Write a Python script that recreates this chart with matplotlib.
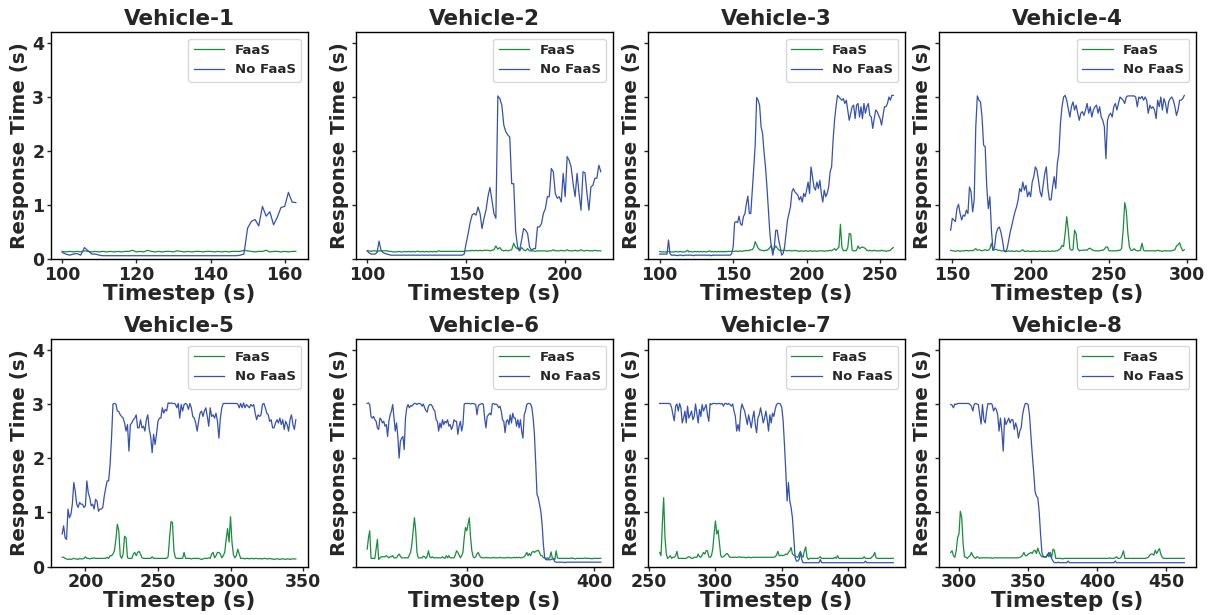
import numpy as np
import matplotlib
matplotlib.use("Agg")
import matplotlib.pyplot as plt

matplotlib.rcParams.update({
    'font.family': 'DejaVu Sans',
    'font.weight': 'bold',
    'axes.labelweight': 'bold',
    'axes.titleweight': 'bold',
    'text.color': '#262626',
    'axes.labelcolor': '#262626',
    'xtick.color': '#262626',
    'ytick.color': '#262626',
    'axes.edgecolor': 'black',
    'axes.linewidth': 1.0,
})

FAAS_COLOR = '#1a8c3e'
NOFAAS_COLOR = '#3652ad'

# ---------------------------------------------------------------
# Data: response time per timestep (first timestep given by *_start)
# ---------------------------------------------------------------
v1_start = 100
v1_xticks = [100, 120, 140, 160]
v1_faas = [
    .15, .14, .15, .14, .15, .14, .16, .15, .14, .15,
    .14, .15, .14, .15, .14, .15, .14, .15, .15, .17,
    .14, .15, .14, .17, .15, .14, .15, .14, .15, .15,
    .14, .16, .15, .14, .15, .14, .15, .15, .14, .15,
    .15, .14, .15, .14, .15, .14, .15, .15, .15, .17,
    .16, .15, .14, .15, .15, .17, .14, .15, .15, .14,
    .15, .14, .15, .15]
v1_nofaas = [
    .13, .10, .08, .10, .11, .08, .22, .16, .10, .10,
    .08, .07, .07, .07, .07, .07, .07, .07, .07, .07,
    .07, .07, .07, .07, .07, .07, .07, .07, .07, .07,
    .07, .07, .07, .07, .07, .07, .07, .07, .07, .07,
    .07, .07, .07, .07, .07, .07, .07, .07, .08, .10,
    .58, .70, .74, .62, .98, .80, .88, .64, .78, .96,
    .98, 1.24, 1.06, 1.05]

v2_start = 100
v2_xticks = [100, 150, 200]
v2_faas = [
    .16, .16, .15, .16, .16, .15, .16, .16, .16, .16,
    .16, .15, .15, .14, .14, .14, .15, .14, .14, .15,
    .14, .15, .14, .15, .14, .15, .15, .14, .15, .14,
    .15, .14, .15, .14, .15, .14, .16, .15, .15, .15,
    .15, .15, .15, .15, .15, .15, .15, .15, .15, .15,
    .16, .16, .16, .17, .16, .17, .16, .17, .16, .17,
    .17, .17, .16, .17, .18, .25, .19, .22, .17, .16,
    .17, .16, .17, .18, .30, .22, .20, .16, .22, .18,
    .16, .20, .16, .16, .16, .15, .16, .16, .16, .16,
    .16, .15, .16, .16, .18, .16, .16, .16, .17, .16,
    .16, .18, .16, .16, .16, .17, .16, .16, .18, .16,
    .16, .17, .16, .16, .16, .17, .16, .16, .16]
v2_nofaas = [
    .16, .12, .10, .10, .10, .13, .34, .17, .13, .11,
    .10, .09, .08, .08, .08, .08, .08, .08, .08, .08,
    .08, .08, .08, .08, .08, .08, .08, .08, .08, .08,
    .08, .08, .08, .08, .08, .08, .08, .08, .08, .08,
    .08, .08, .08, .08, .08, .08, .08, .08, .08, .10,
    .30, .48, .68, .82, .85, .82, .97, .85, .57, .76,
    .91, 1.16, 1.33, 1.10, .85, .76, 3.02, 2.97, 2.85, 2.48,
    2.36, 2.30, 2.26, 1.40, 1.40, .51, .23, .17, .36, .57,
    .54, .48, .23, .17, .20, .20, .60, .60, .66, .85,
    .94, 1.16, 1.16, 1.68, 1.62, 1.22, 1.13, 1.16, 1.06, 1.59,
    1.16, 1.90, 1.83, 1.71, 1.40, 1.16, 1.59, 1.22, .91, 1.62,
    1.60, 1.22, .91, 1.34, 1.37, 1.50, 1.50, 1.74, 1.62]

v3_start = 100
v3_xticks = [100, 150, 200, 250]
v3_faas = [
    .15, .14, .14, .14, .14, .14, .15, .14, .14, .14,
    .14, .15, .14, .14, .15, .14, .14, .14, .15, .17,
    .14, .15, .14, .14, .15, .14, .15, .14, .15, .14,
    .15, .14, .14, .15, .16, .14, .15, .14, .15, .14,
    .15, .14, .15, .14, .15, .14, .15, .15, .15, .15,
    .15, .15, .16, .15, .15, .16, .15, .16, .16, .17,
    .16, .17, .18, .18, .22, .33, .27, .21, .18, .17,
    .17, .16, .17, .17, .19, .22, .26, .16, .20, .25,
    .21, .18, .16, .17, .16, .18, .16, .16, .17, .16,
    .16, .16, .17, .16, .16, .15, .16, .16, .15, .16,
    .16, .15, .16, .16, .15, .16, .16, .15, .16, .16,
    .16, .16, .15, .16, .16, .16, .17, .16, .18, .20,
    .17, .20, .23, .65, .23, .16, .17, .16, .22, .48,
    .47, .17, .16, .16, .17, .25, .20, .22, .23, .22,
    .20, .17, .16, .17, .16, .16, .17, .16, .16, .16,
    .16, .17, .16, .16, .15, .16, .16, .17, .20, .22]
v3_nofaas = [
    .10, .10, .10, .10, .10, .10, .36, .11, .08, .08,
    .08, .08, .07, .08, .08, .08, .07, .08, .08, .08,
    .08, .08, .08, .07, .08, .08, .08, .08, .08, .08,
    .08, .08, .08, .08, .08, .07, .08, .08, .08, .08,
    .08, .08, .08, .08, .08, .08, .08, .08, .08, .11,
    .23, .68, .70, .68, .80, .66, .63, .79, .85, 1.03,
    1.17, .85, .85, 1.25, 1.68, 2.11, 2.99, 2.94, 2.85, 2.45,
    2.33, 1.99, 1.71, 1.34, .91, .48, .23, .08, .23, .54,
    .54, .36, .23, .08, .11, .23, .48, .73, .85, .97,
    1.25, 1.31, 1.25, 1.22, 1.19, 1.10, 1.16, 1.06, 1.22, 1.16,
    1.28, 1.43, 1.22, 1.71, 1.53, 1.34, 1.28, 1.43, 1.31, 1.46,
    1.22, 1.06, 1.28, 1.16, 1.22, 1.34, 1.62, 1.71, 2.20, 2.57,
    2.82, 3.03, 3.00, 2.97, 2.94, 2.97, 2.88, 2.94, 2.76, 2.57,
    2.70, 2.82, 2.85, 2.60, 2.85, 2.88, 2.63, 2.82, 2.60, 2.88,
    2.70, 2.82, 2.88, 2.66, 2.63, 2.42, 2.60, 2.76, 2.73, 2.66,
    2.60, 2.48, 2.66, 2.82, 2.82, 2.88, 3.00, 2.94, 3.03, 3.03]

v4_start = 149
v4_xticks = [150, 200, 250, 300]
v4_faas = [
    .17,
    .16, .16, .15, .16, .16, .15, .16, .16, .16, .17,
    .16, .16, .17, .16, .18, .20, .17, .18, .17, .16,
    .17, .18, .17, .17, .20, .30, .17, .18, .19, .17,
    .17, .16, .16, .16, .15, .15, .16, .15, .16, .15,
    .15, .16, .15, .15, .16, .18, .15, .15, .16, .15,
    .15, .15, .16, .15, .15, .15, .16, .15, .15, .15,
    .15, .16, .15, .15, .16, .15, .16, .16, .18, .20,
    .26, .24, .48, .79, .54, .20, .17, .18, .54, .48,
    .20, .16, .17, .17, .17, .18, .17, .20, .21, .18,
    .17, .16, .16, .16, .16, .17, .17, .19, .23, .23,
    .16, .16, .16, .16, .16, .16, .17, .17, .20, .54,
    1.05, .90, .48, .23, .17, .17, .20, .17, .16, .16,
    .17, .30, .17, .16, .16, .16, .16, .16, .16, .16,
    .16, .17, .16, .16, .15, .16, .16, .16, .16, .16,
    .16, .17, .18, .25, .27, .31, .22, .16, .18]
v4_nofaas = [
    .54,
    .76, .73, .70, .94, 1.02, .85, .73, .82, .80, .91,
    .85, 1.34, 1.25, .88, 1.10, 2.45, 3.02, 2.94, 2.91, 2.63,
    2.11, 2.08, 1.34, .94, 1.16, .54, .17, .23, .48, .57,
    .60, .51, .36, .17, .14, .20, .36, .51, .63, .76,
    .88, .97, 1.10, 1.31, 1.25, 1.43, 1.28, 1.37, 1.16, 1.25,
    1.16, 1.43, 1.53, 1.71, 1.65, 1.46, 1.25, 1.16, 1.37, 1.59,
    1.71, 1.31, 1.10, 1.10, 1.34, 1.53, 1.31, 1.77, 1.96, 2.51,
    2.82, 3.00, 3.03, 2.94, 2.79, 2.63, 2.82, 2.91, 2.76, 2.85,
    2.70, 2.57, 2.70, 2.73, 2.66, 2.76, 2.88, 2.70, 2.82, 2.63,
    2.76, 2.82, 2.85, 2.70, 2.82, 2.63, 2.57, 2.45, 1.86, 2.57,
    2.66, 2.70, 2.63, 2.82, 2.88, 2.76, 2.88, 3.00, 2.97, 2.94,
    2.88, 3.00, 3.02, 3.02, 3.02, 3.02, 3.02, 3.00, 2.82, 3.00,
    2.97, 3.01, 2.94, 3.00, 2.94, 2.70, 2.85, 2.79, 2.82, 2.76,
    2.60, 2.94, 2.82, 3.00, 2.76, 2.97, 2.88, 2.70, 2.91, 2.97,
    3.00, 2.94, 2.82, 2.66, 2.76, 2.94, 2.94, 2.97, 3.03]

v5_start = 184
v5_xticks = [200, 250, 300, 350]
v5_faas = [
    .17, .17, .15, .14, .13, .14,
    .13, .14, .15, .14, .14, .13, .15, .14, .14, .15,
    .18, .15, .15, .14, .15, .15, .16, .15, .15, .15,
    .15, .15, .15, .15, .15, .17, .15, .20, .20, .23,
    .29, .50, .78, .66, .20, .15, .23, .56, .53, .16,
    .15, .15, .15, .23, .26, .20, .26, .28, .23, .16,
    .15, .15, .15, .15, .15, .15, .18, .15, .15, .15,
    .15, .15, .15, .15, .15, .15, .15, .18, .53, .83,
    .81, .29, .16, .15, .15, .15, .15, .15, .26, .15,
    .15, .15, .15, .14, .15, .15, .15, .15, .15, .14,
    .13, .14, .15, .15, .15, .16, .15, .23, .26, .16,
    .20, .26, .26, .23, .16, .20, .26, .50, .70, .45,
    .92, .45, .22, .16, .20, .32, .23, .15, .15, .15,
    .14, .15, .15, .14, .15, .15, .14, .15, .15, .14,
    .15, .14, .14, .15, .15, .14, .14, .15, .14, .14,
    .13, .14, .14, .14, .13, .14, .14, .14, .13, .14,
    .14, .13, .14, .14, .14, .14]
v5_nofaas = [
    .60, .75, .53, .50, 1.06, .90,
    .96, 1.15, 1.55, 1.39, 1.15, 1.09, 1.18, 1.15, 1.15, 1.09,
    1.12, 1.58, 1.36, 1.27, 1.12, 1.15, 1.06, 1.24, 1.21, 1.02,
    1.06, 1.06, 1.09, 1.30, 1.45, 1.58, 1.58, 1.88, 2.37, 3.00,
    3.01, 3.00, 2.87, 2.86, 2.80, 2.77, 2.74, 2.65, 2.50, 2.62,
    2.13, 2.62, 2.65, 2.71, 2.74, 2.80, 2.56, 2.56, 2.71, 2.56,
    2.59, 2.50, 2.71, 2.80, 2.53, 2.40, 2.10, 2.44, 2.25, 2.44,
    2.68, 2.74, 2.74, 2.93, 2.83, 2.90, 2.87, 3.02, 3.01, 3.02,
    3.01, 3.01, 3.00, 2.93, 3.01, 2.74, 2.99, 2.87, 2.99, 3.01,
    2.99, 2.90, 3.01, 2.93, 2.77, 2.74, 2.65, 2.50, 2.68, 2.83,
    2.87, 2.77, 2.87, 2.93, 2.77, 2.59, 2.93, 2.77, 2.80, 2.74,
    2.83, 2.68, 2.37, 2.74, 2.93, 3.01, 3.01, 3.01, 3.01, 3.01,
    3.01, 3.01, 3.01, 3.01, 3.01, 3.00, 2.93, 3.01, 2.93, 3.02,
    2.93, 2.99, 2.96, 2.93, 2.99, 2.96, 2.99, 2.83, 2.71, 2.80,
    2.77, 2.80, 2.99, 3.01, 2.93, 2.83, 2.80, 2.68, 2.71, 2.56,
    2.56, 2.65, 2.71, 2.65, 2.74, 2.62, 2.71, 2.53, 2.68, 2.62,
    2.50, 2.71, 2.80, 2.62, 2.53, 2.71]

v6_start = 222
v6_xticks = [300, 400]
v6_faas = [
    .32, .53, .66, .15, .15, .15, .15, .32,
    .50, .13, .16, .18, .18, .18, .18, .20, .18, .16,
    .18, .18, .20, .16, .16, .16, .20, .23, .19, .16,
    .16, .16, .16, .16, .16, .21, .26, .41, .66, .90,
    .66, .26, .16, .16, .16, .16, .19, .18, .15, .19,
    .29, .18, .16, .18, .16, .16, .16, .16, .16, .16,
    .16, .18, .16, .15, .20, .16, .20, .16, .16, .16,
    .16, .21, .29, .26, .21, .16, .20, .26, .53, .72,
    .66, .78, .90, .53, .29, .18, .16, .18, .23, .26,
    .20, .17, .16, .16, .16, .17, .16, .16, .16, .16,
    .16, .17, .16, .16, .16, .16, .17, .16, .16, .16,
    .16, .16, .17, .16, .16, .16, .16, .17, .16, .17,
    .16, .17, .16, .16, .17, .18, .21, .26, .20, .24,
    .20, .26, .28, .26, .28, .29, .30, .26, .20, .20,
    .16, .16, .13, .16, .15, .16, .27, .16, .15, .13,
    .29, .16, .15, .15, .15, .15, .15, .15, .15, .15,
    .15, .15, .16, .15, .15, .14, .15, .15, .15, .15,
    .15, .15, .15, .16, .15, .15, .15, .15, .14, .15,
    .15, .15, .15, .15, .15, .15]
v6_nofaas = [
    3.01, 3.02, 2.99, 2.77, 2.74, 2.77, 2.71, 2.68,
    2.56, 2.53, 2.74, 2.71, 2.65, 2.68, 2.59, 2.62, 2.40, 2.68,
    2.80, 2.87, 2.99, 2.74, 2.50, 2.65, 2.40, 2.00, 2.31, 2.37,
    2.40, 2.16, 2.74, 2.93, 2.99, 2.93, 2.97, 2.96, 2.99, 3.01,
    3.01, 2.99, 3.01, 3.01, 3.00, 2.96, 3.00, 2.93, 2.88, 2.85,
    2.96, 2.99, 2.99, 2.96, 2.90, 2.87, 2.71, 2.68, 2.50, 2.65,
    2.56, 2.71, 2.62, 2.68, 2.65, 2.71, 2.59, 2.62, 2.53, 2.59,
    2.71, 2.68, 2.68, 2.44, 2.59, 2.68, 2.50, 2.62, 3.00, 3.01,
    3.01, 3.01, 3.01, 3.00, 3.01, 3.01, 3.00, 2.99, 2.80, 2.96,
    2.99, 3.00, 3.01, 2.99, 2.74, 2.56, 2.77, 2.80, 2.83, 2.80,
    3.00, 3.01, 2.99, 3.00, 2.98, 2.93, 2.96, 2.87, 2.71, 2.68,
    2.47, 2.68, 2.71, 2.62, 2.80, 2.65, 2.83, 2.74, 2.74, 2.59,
    2.71, 2.56, 2.71, 2.50, 2.37, 2.80, 2.87, 2.99, 3.01, 3.01,
    3.00, 2.93, 2.74, 2.44, 1.91, 1.33, 1.27, 1.15, 1.02, .78,
    .41, .17, .13, .12, .13, .12, .13, .14, .13, .09,
    .08, .08, .08, .08, .08, .08, .08, .07, .08, .08,
    .08, .08, .08, .08, .08, .08, .08, .08, .08, .08,
    .08, .08, .08, .08, .08, .08, .08, .08, .08, .08,
    .08, .08, .08, .08, .08, .08]

v7_start = 258
v7_xticks = [250, 300, 350, 400]
v7_faas = [
    .26, .20,
    .78, 1.27, .53, .23, .15, .17, .20, .15, .17, .17,
    .20, .28, .15, .15, .15, .15, .15, .15, .15, .17,
    .18, .17, .15, .15, .17, .17, .17, .23, .18, .17,
    .21, .26, .23, .29, .29, .18, .17, .20, .32, .60,
    .84, .60, .67, .44, .20, .17, .18, .20, .23, .24,
    .20, .17, .17, .17, .17, .17, .17, .17, .18, .17,
    .17, .17, .17, .16, .17, .17, .17, .16, .17, .17,
    .17, .17, .17, .17, .17, .17, .17, .17, .17, .17,
    .17, .17, .17, .17, .17, .18, .21, .28, .20, .20,
    .21, .20, .21, .23, .22, .26, .29, .35, .23, .21,
    .20, .18, .17, .23, .28, .20, .17, .29, .36, .17,
    .13, .15, .15, .15, .15, .15, .15, .15, .16, .18,
    .15, .15, .15, .15, .15, .15, .15, .15, .15, .15,
    .17, .15, .20, .15, .15, .15, .15, .15, .15, .15,
    .15, .15, .15, .15, .15, .15, .15, .15, .15, .15,
    .15, .15, .18, .15, .15, .15, .15, .15, .18, .20,
    .26, .16, .15, .15, .15, .15, .15, .15, .15, .15,
    .15, .15, .15, .15, .15]
v7_nofaas = [
    3.01, 3.01,
    3.01, 3.01, 3.01, 3.01, 3.01, 3.01, 3.00, 2.93, 2.80, 2.69,
    2.96, 3.00, 2.87, 3.01, 2.93, 2.65, 2.74, 2.87, 2.65, 2.96,
    2.74, 2.80, 2.87, 2.71, 2.77, 3.00, 2.83, 2.65, 2.90, 2.77,
    2.99, 2.87, 2.93, 2.99, 2.80, 2.68, 3.01, 2.99, 3.01, 3.01,
    3.01, 3.00, 3.01, 3.01, 3.00, 3.01, 2.96, 3.01, 3.01, 2.99,
    3.01, 2.99, 2.96, 3.00, 2.87, 2.77, 2.50, 2.62, 2.50, 2.87,
    3.00, 2.93, 2.87, 2.74, 2.62, 2.80, 2.68, 2.56, 2.74, 2.87,
    2.62, 2.47, 2.74, 2.80, 2.93, 2.80, 2.65, 2.74, 2.87, 2.71,
    2.50, 2.80, 2.65, 2.83, 2.77, 2.90, 2.99, 3.01, 3.01, 3.00,
    2.93, 2.69, 2.25, 1.76, 1.21, 1.55, 1.21, 1.09, .90, .53,
    .17, .10, .10, .13, .26, .13, .07, .07, .07, .07,
    .07, .07, .07, .07, .07, .07, .07, .07, .07, .13,
    .07, .07, .07, .07, .07, .07, .07, .07, .07, .07,
    .07, .07, .07, .07, .07, .07, .07, .07, .07, .07,
    .07, .07, .07, .07, .07, .07, .07, .07, .07, .07,
    .07, .07, .07, .10, .07, .07, .07, .07, .07, .07,
    .07, .07, .07, .07, .07, .07, .07, .07, .07, .07,
    .07, .07, .07, .07, .07]

v8_start = 294
v8_xticks = [300, 350, 400, 450]
v8_faas = [
    .26, .29, .20, .17, .29, .53,
    .60, 1.02, .90, .41, .18, .17, .15, .18, .20, .26,
    .20, .17, .15, .18, .17, .15, .16, .16, .16, .16,
    .16, .16, .16, .16, .15, .16, .16, .16, .16, .16,
    .16, .16, .16, .16, .16, .16, .16, .16, .16, .16,
    .16, .16, .16, .16, .17, .18, .21, .26, .20, .20,
    .23, .24, .26, .24, .29, .30, .24, .34, .26, .21,
    .18, .18, .17, .17, .23, .18, .26, .17, .32, .30,
    .15, .15, .15, .15, .15, .14, .15, .15, .15, .15,
    .15, .15, .15, .15, .15, .15, .15, .15, .15, .15,
    .15, .15, .15, .15, .15, .15, .15, .15, .15, .15,
    .15, .15, .15, .15, .15, .15, .15, .15, .15, .16,
    .15, .15, .15, .16, .18, .15, .15, .16, .21, .29,
    .15, .15, .15, .15, .15, .15, .15, .15, .15, .15,
    .15, .15, .15, .15, .15, .15, .16, .17, .21, .23,
    .23, .21, .30, .24, .29, .33, .23, .17, .15, .15,
    .15, .15, .15, .15, .15, .15, .15, .15, .15, .15,
    .15, .15, .15, .15]
v8_nofaas = [
    2.99, 2.98, 2.93, 3.00, 2.99, 3.01,
    3.01, 3.01, 3.01, 3.01, 3.01, 3.01, 3.01, 3.01, 2.99, 2.96,
    2.87, 2.99, 3.01, 3.00, 2.99, 2.80, 2.63, 2.99, 2.71, 2.65,
    2.87, 3.01, 3.00, 3.01, 2.99, 2.87, 2.93, 2.90, 2.80, 2.50,
    2.74, 2.50, 2.13, 2.74, 2.62, 2.68, 2.74, 2.65, 2.71, 2.71,
    2.53, 2.65, 2.56, 2.37, 2.50, 2.56, 2.80, 2.93, 3.01, 3.01,
    2.99, 2.80, 2.44, 2.07, 1.76, 1.39, 1.30, 1.27, 1.02, .60,
    .26, .18, .18, .18, .20, .26, .20, .15, .10, .07,
    .07, .07, .08, .07, .07, .07, .07, .07, .07, .10,
    .07, .07, .07, .07, .07, .07, .07, .07, .07, .07,
    .07, .07, .07, .07, .07, .07, .07, .07, .07, .07,
    .07, .07, .07, .07, .07, .07, .07, .07, .07, .07,
    .07, .07, .07, .10, .07, .07, .07, .07, .07, .07,
    .07, .07, .07, .07, .07, .07, .07, .07, .07, .07,
    .07, .07, .07, .07, .07, .07, .07, .07, .07, .07,
    .07, .07, .07, .07, .07, .07, .07, .07, .07, .07,
    .07, .07, .07, .07, .07, .07, .07, .07, .07, .07,
    .07, .07, .07, .07]

vehicles = [
    ('Vehicle-1', v1_start, v1_faas, v1_nofaas, v1_xticks),
    ('Vehicle-2', v2_start, v2_faas, v2_nofaas, v2_xticks),
    ('Vehicle-3', v3_start, v3_faas, v3_nofaas, v3_xticks),
    ('Vehicle-4', v4_start, v4_faas, v4_nofaas, v4_xticks),
    ('Vehicle-5', v5_start, v5_faas, v5_nofaas, v5_xticks),
    ('Vehicle-6', v6_start, v6_faas, v6_nofaas, v6_xticks),
    ('Vehicle-7', v7_start, v7_faas, v7_nofaas, v7_xticks),
    ('Vehicle-8', v8_start, v8_faas, v8_nofaas, v8_xticks),
]

W, H = 1212, 615
col_left = [50.5, 355.5, 648, 939]   # pixel positions of the panels
row_top = [32, 339]
ax_w, ax_h = 257, 227.5

fig, axes = plt.subplots(2, 4, figsize=(W / 100, H / 100), dpi=100, sharey=True)

for i, (ax, (name, start, faas, nofaas, xticks)) in enumerate(zip(axes.flat, vehicles)):
    r, c = divmod(i, 4)
    ax.set_position([col_left[c] / W, 1 - (row_top[r] + ax_h) / H, ax_w / W, ax_h / H])
    t_f = np.arange(start, start + len(faas))
    t_n = np.arange(start, start + len(nofaas))
    ax.plot(t_f, faas, color=FAAS_COLOR, linewidth=0.9, label='FaaS')
    ax.plot(t_n, nofaas, color=NOFAAS_COLOR, linewidth=0.9, label='No FaaS')
    ax.set_title(name, fontsize=15.5, fontweight='bold', pad=5)
    ax.set_xlabel('Timestep (s)', fontsize=15.5, fontweight='bold', labelpad=0)
    ax.set_ylabel('Response Time (s)', fontsize=14.3, fontweight='bold', labelpad=2)
    ax.set_ylim(0, 4.2)
    ax.set_yticks([0, 1, 2, 3, 4])
    ax.set_xticks(xticks)
    ax.tick_params(labelsize=12.5, length=3, width=1, pad=1.5, direction='out')
    for lbl in ax.get_xticklabels() + ax.get_yticklabels():
        lbl.set_fontweight('bold')
    leg = ax.legend(loc='upper right', prop={'weight': 'bold', 'size': 9.5},
                    handlelength=2.3, frameon=True, fancybox=True)
    leg.get_frame().set_edgecolor('#d0d0d0')

fig.savefig('out.png', dpi=100)
